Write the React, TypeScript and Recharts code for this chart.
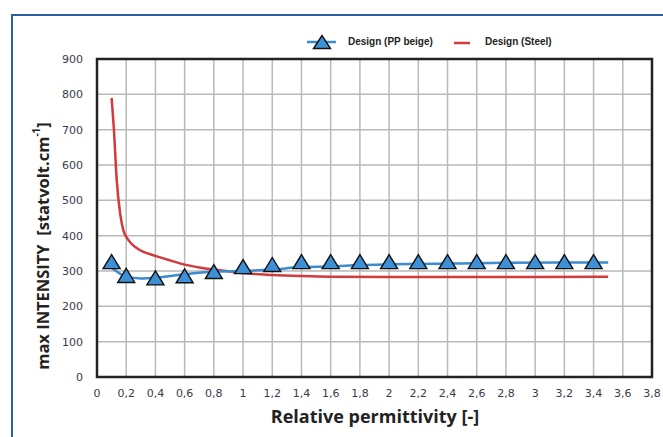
import React from "react";
import { LineChart, Line, XAxis, YAxis, CartesianGrid, ReferenceArea } from "recharts";

const xTicks = [0, 0.2, 0.4, 0.6, 0.8, 1, 1.2, 1.4, 1.6, 1.8, 2, 2.2, 2.4, 2.6, 2.8, 3, 3.2, 3.4, 3.6, 3.8];
const yTicks = [0, 100, 200, 300, 400, 500, 600, 700, 800, 900];

// Design (PP beige) – marker points
const ppMarkerX = [0.1, 0.2, 0.4, 0.6, 0.8, 1, 1.2, 1.4, 1.6, 1.8, 2, 2.2, 2.4, 2.6, 2.8, 3, 3.2, 3.4];
const ppMarkerY = [325, 286, 279, 285, 297, 311, 317, 325, 325, 325, 325, 325, 325, 325, 325, 325, 325, 325];

// Design (PP beige) – trend line
const ppLineX = [0.1, 0.2, 0.3, 0.4, 0.6, 0.8, 1, 1.2, 1.4, 1.6, 1.8, 2, 2.4, 2.8, 3.2, 3.5];
const ppLineY = [310, 284, 279, 281, 291, 298, 300, 304, 311, 313, 317, 319, 321, 323, 324, 324];

// Design (Steel)
const steelX = [0.1, 0.116, 0.135, 0.158, 0.18, 0.214, 0.272, 0.4, 0.5, 0.6, 0.7, 0.8, 0.9, 1, 1.2, 1.4, 1.6, 2, 2.5, 3, 3.5];
const steelY = [790, 699, 558, 464, 416, 388, 365, 343, 330, 318, 310, 304, 299, 294, 289, 286, 284, 283, 283, 283, 284];

const ppMarkers = ppMarkerX.map((x, i) => ({ x, y: ppMarkerY[i] }));
const ppLine = ppLineX.map((x, i) => ({ x, y: ppLineY[i] }));
const steel = steelX.map((x, i) => ({ x, y: steelY[i] }));

const BLUE = "#3a8bd0";
const RED = "#d23a3c";
const TICK_COLOR = "#3a3a4c";

const Triangle = (props: any) => {
  const { cx, cy } = props;
  if (cx == null || cy == null) return null;
  return (
    <polygon
      points={`${cx},${cy - 7.5} ${cx - 8.5},${cy + 6.5} ${cx + 8.5},${cy + 6.5}`}
      fill="#3d8fd6"
      stroke="#111"
      strokeWidth={1.4}
      strokeLinejoin="miter"
    />
  );
};

const fmt = (v: number) => String(v).replace(".", ",");

const YLabel = () => (
  <text
    x={0}
    y={0}
    transform="translate(42,246) rotate(-90)"
    textAnchor="middle"
    dominantBaseline="central"
    fontFamily="'Open Sans', sans-serif"
    fontWeight={700}
    fontSize={16.5}
    fill="#222"
  >
    max INTENSITY{"\u00a0\u00a0"}[statvolt.cm
    <tspan dy={-6} fontSize={10}>-1</tspan>
    <tspan dy={6}>]</tspan>
  </text>
);

const XLabel = () => (
  <text
    x={375}
    y={423}
    textAnchor="middle"
    fontFamily="'Open Sans', sans-serif"
    fontWeight={700}
    fontSize={18}
    fill="#222"
  >
    Relative permittivity [-]
  </text>
);

export default function App() {
  return (
    <div
      style={{
        position: "absolute",
        left: 0,
        top: 0,
        width: 663,
        height: 437,
        overflow: "hidden",
        background: "#fff",
      }}
    >
      <div
        style={{
          position: "absolute",
          left: 11,
          top: 14,
          width: 700,
          height: 500,
          borderLeft: "2px solid #2d609f",
          borderTop: "2px solid #2d609f",
        }}
      />
      <div style={{ position: "absolute", left: 0, top: 0 }}>
        <LineChart width={663} height={437} margin={{ top: 59, right: 11, bottom: 10, left: 37 }}>
          <CartesianGrid stroke="#b9b9b9" strokeWidth={1.5} />
          <XAxis
            type="number"
            dataKey="x"
            domain={[0, 3.8]}
            ticks={xTicks}
            tickFormatter={fmt}
            interval={0}
            allowDataOverflow
            axisLine={false}
            tickLine={false}
            tickSize={0}
            tickMargin={12}
            height={50}
            tick={{ fill: TICK_COLOR, fontSize: 11, fontFamily: "'DejaVu Sans', sans-serif" }}
          />
          <YAxis
            type="number"
            domain={[0, 900]}
            ticks={yTicks}
            interval={0}
            axisLine={false}
            tickLine={false}
            tickSize={0}
            tickMargin={14}
            width={60}
            tick={{ fill: TICK_COLOR, fontSize: 11, fontFamily: "'DejaVu Sans', sans-serif" }}
          />
          <ReferenceArea
            x1={0}
            x2={3.8}
            y1={0}
            y2={900}
            fill="none"
            fillOpacity={0}
            stroke="#222"
            strokeWidth={2.5}
            ifOverflow="visible"
          />
          <Line
            data={steel}
            dataKey="y"
            type="monotone"
            stroke={RED}
            strokeWidth={2.5}
            dot={false}
            activeDot={false}
            isAnimationActive={false}
          />
          <Line
            data={ppLine}
            dataKey="y"
            type="monotone"
            stroke={BLUE}
            strokeWidth={2.5}
            dot={false}
            activeDot={false}
            isAnimationActive={false}
          />
          <Line
            data={ppMarkers}
            dataKey="y"
            stroke="none"
            dot={<Triangle />}
            activeDot={false}
            isAnimationActive={false}
          />
        </LineChart>
      </div>
      <svg width={663} height={437} style={{ position: "absolute", left: 0, top: 0, pointerEvents: "none" }}>
        <YLabel />
        <XLabel />
        <line x1={307} y1={42} x2={336} y2={42} stroke={BLUE} strokeWidth={2.5} />
        <polygon points="322,35.5 313.5,48.5 330.5,48.5" fill="#3d8fd6" stroke="#111" strokeWidth={1.4} />
        <text x={348} y={44.5} fontFamily="'Liberation Sans', Arial, sans-serif" fontWeight={700} fontSize={10} fill="#222">
          Design (PP beige)
        </text>
        <line x1={454} y1={43} x2={470} y2={43} stroke={RED} strokeWidth={2.5} />
        <text x={485} y={44.5} fontFamily="'Liberation Sans', Arial, sans-serif" fontWeight={700} fontSize={10} fill="#222">
          Design (Steel)
        </text>
      </svg>
    </div>
  );
}
